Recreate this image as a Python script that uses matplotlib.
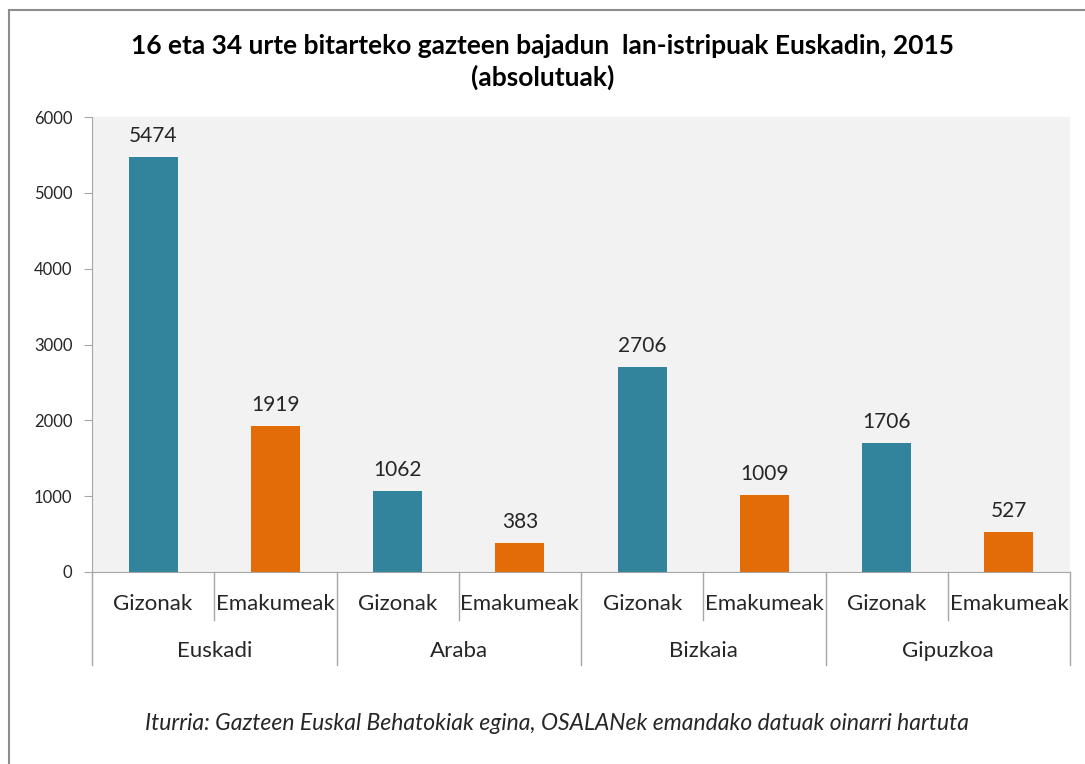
import matplotlib.pyplot as plt
from matplotlib.transforms import blended_transform_factory
from matplotlib.lines import Line2D

plt.rcParams['font.family'] = ['Lato', 'DejaVu Sans']

# datuak
regions = ["Euskadi", "Araba", "Bizkaia", "Gipuzkoa"]
sexes = ["Gizonak", "Emakumeak"]
gizonak = [5474, 1062, 2706, 1706]
emakumeak = [1919, 383, 1009, 527]
yticks = [0, 1000, 2000, 3000, 4000, 5000, 6000]

title = "16 eta 34 urte bitarteko gazteen bajadun  lan-istripuak Euskadin, 2015\n(absolutuak)"
source = "Iturria: Gazteen Euskal Behatokiak egina, OSALANek emandako datuak oinarri hartuta"

col_g = "#31849B"
col_e = "#E36C09"
txt = "#262626"
grey = "#A6A6A6"

fig = plt.figure(figsize=(10.85, 7.64), dpi=100)
ax = fig.add_axes([92 / 1085, 1 - 572 / 764, (1070 - 92) / 1085, (572 - 117) / 764])
ax.set_facecolor("#F2F2F2")

# barrak: bi zutabe eskualde bakoitzeko
vals = []
cols = []
for g, e in zip(gizonak, emakumeak):
    vals += [g, e]
    cols += [col_g, col_e]
xs = list(range(len(vals)))
bars = ax.bar(xs, vals, width=0.4, color=cols, zorder=2)
for x, v in zip(xs, vals):
    ax.annotate(str(v), (x, v), xytext=(0, 8), textcoords="offset points",
                ha="center", va="bottom", fontsize=15, color=txt)

ax.set_xlim(-0.5, len(vals) - 0.5)
ax.set_ylim(0, 6000)
ax.set_yticks(yticks)
ax.set_yticklabels([str(t) for t in yticks], fontsize=12, color=txt)
ax.tick_params(axis="y", length=6, color=grey, pad=8)
ax.set_xticks([])
for s in ["top", "right"]:
    ax.spines[s].set_visible(False)
ax.spines["left"].set_color(grey)
ax.spines["bottom"].set_color(grey)

# kategoria ardatza (bi mailatan)
tr = blended_transform_factory(ax.transData, ax.transAxes)
for i in range(len(regions)):
    ax.add_line(Line2D([2 * i + 0.5, 2 * i + 0.5], [0, -0.105], transform=tr,
                       color=grey, lw=1, clip_on=False))
for i in range(len(regions) + 1):
    ax.add_line(Line2D([2 * i - 0.5, 2 * i - 0.5], [0, -0.204], transform=tr,
                       color=grey, lw=1, clip_on=False))
for x in xs:
    ax.text(x, -0.070, sexes[x % 2], transform=tr, ha="center", va="center",
            fontsize=16, color=txt)
for i, r in enumerate(regions):
    ax.text(2 * i + 0.5, -0.174, r, transform=tr, ha="center", va="center",
            fontsize=16, color=txt)

fig.text(0.5, 1 - 62 / 764, title, ha="center", va="center", fontsize=19,
         fontweight="bold", color="black", linespacing=1.3)
fig.text(557 / 1085, 1 - 723 / 764, source, ha="center", va="center",
         fontsize=16.5, style="italic", color=txt)

# kanpoko markoa
fig.add_artist(Line2D([9 / 1085, 1], [1 - 10 / 764, 1 - 10 / 764], color="#8C8C8C", lw=1.5))
fig.add_artist(Line2D([9 / 1085, 9 / 1085], [0, 1 - 10 / 764], color="#8C8C8C", lw=1.5))

fig.savefig("out.png", dpi=100)
